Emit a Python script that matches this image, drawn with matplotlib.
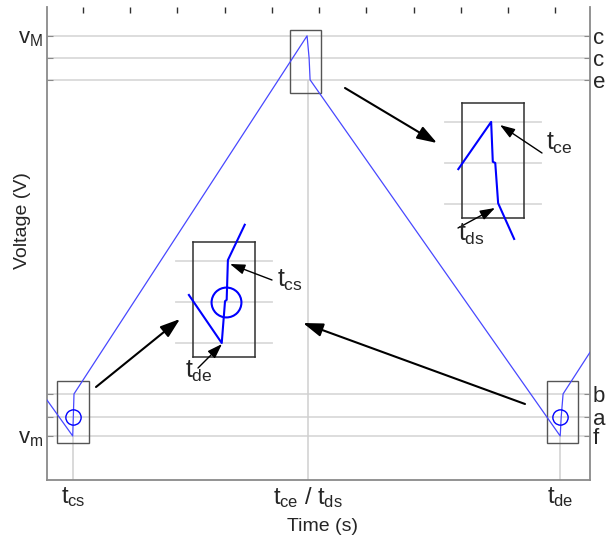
import matplotlib
matplotlib.use('Agg')
import matplotlib.pyplot as plt

plt.rcParams['font.family'] = 'Liberation Sans'
plt.rcParams['mathtext.fontset'] = 'custom'
plt.rcParams['mathtext.rm'] = 'Liberation Sans'
plt.rcParams['mathtext.it'] = 'Liberation Sans'
plt.rcParams['mathtext.bf'] = 'Liberation Sans:bold'

# voltage levels (V)
v_f = 0.93   # v_m
v_a = 1.33
v_b = 1.82
v_e = 8.46
v_c = 8.92
v_d = 9.39   # v_M
levels = [v_d, v_c, v_e, v_b, v_a, v_f]
left_labels = [r'$v_M$', '', '', '', '', r'$v_m$']
right_labels = ['c', 'c', 'e', 'b', 'a', 'f']

# switching instants (s)
t_cs = 0.55
t_ce = 5.53
t_de = 10.87
xtick_pos = [t_cs, t_ce, t_de]
xtick_labels = [r'$t_{cs}$', r'$t_{ce}$ / $t_{ds}$', r'$t_{de}$']
top_ticks = [0.763, 1.763, 2.763, 3.763, 4.763, 5.763, 6.763, 7.763, 8.763, 9.763, 10.763]

# triangular voltage trace
time = [0.00, 0.545, 0.557, 0.572, 5.508, 5.551, 5.572, 10.869, 10.89, 10.93, 11.50]
volt = [1.69, 0.93, 1.33, 1.82, 9.39, 8.92, 8.46, 0.93, 1.33, 1.82, 2.70]

# zoomed details (local units, levels at 0/1/2)
zoom_levels = [0, 1, 2]
zoom_ce_t = [-0.80, 0.00, 0.04, 0.10, 0.17, 0.56]
zoom_ce_v = [0.85, 2.00, 1.03, 1.00, 0.02, -0.85]
zoom_cs_t = [-0.90, -0.10, -0.02, 0.02, 0.05, 0.46]
zoom_cs_v = [1.17, 0.00, 1.02, 1.05, 2.02, 2.88]

W, H = 606, 537
fig = plt.figure(figsize=(W / 100, H / 100), dpi=100)
ax = fig.add_axes([47 / W, 1 - 480 / H, 543 / W, 473 / H])

spine_c = '#8a8a8a'
grid_c = '#dadada'
txt_c = '#262626'

for lv in levels:
    ax.axhline(lv, color=grid_c, lw=1.3, zorder=1)
ax.vlines([t_cs, t_de], 0, v_f, color='#cfcfcf', lw=1.1, zorder=1)
ax.vlines([t_ce], 0, v_e, color='#cfcfcf', lw=1.1, zorder=1)

ax.plot(time, volt, color='#4848ff', lw=0.9, zorder=3)
ax.plot([t_cs, t_de], [v_a, v_a], 'o', ms=11, mfc='none', mec='#0000ff', mew=1.0, zorder=4)

# zoom windows
for x0, y0, y1 in [(t_cs, v_f - 0.15, v_b + 0.27), (t_ce - 0.05, v_e - 0.28, v_d + 0.12),
                   (t_de + 0.04, v_f - 0.15, v_b + 0.27)]:
    ax.add_patch(plt.Rectangle((x0 - 0.33, y0), 0.66, y1 - y0, fill=False,
                               ec='#555555', lw=1.0, zorder=2))

ax.set_xlim(0, 11.5)
ax.set_ylim(0, 10)
ax.set_xticks(xtick_pos)
ax.set_xticklabels(xtick_labels, fontsize=17, color=txt_c)
ax.set_yticks(levels)
ax.set_yticklabels(left_labels, fontsize=16, color=txt_c)
ax.tick_params(axis='x', length=0, pad=4)
ax.tick_params(axis='y', direction='in', length=4, color=spine_c, pad=3)
ax.spines['top'].set_visible(False)
for s in ['left', 'right', 'bottom']:
    ax.spines[s].set_color(spine_c)
    ax.spines[s].set_linewidth(1.3)

ax2 = ax.twinx()
ax2.set_ylim(0, 10)
ax2.set_yticks(levels)
ax2.set_yticklabels(right_labels, fontsize=16, color=txt_c)
ax2.tick_params(axis='y', direction='in', length=4, color=spine_c, pad=2)
for s in ax2.spines.values():
    s.set_visible(False)

sec = ax.secondary_xaxis('top')
sec.set_xticks(top_ticks)
sec.tick_params(direction='in', length=4, color='#303030', width=1, labeltop=False)
sec.spines['top'].set_visible(False)

ax.set_xlabel('Time (s)', fontsize=14, color=txt_c)
ax.xaxis.set_label_coords(0.508, -0.080)
ax.set_ylabel('Voltage (V)', fontsize=14, color=txt_c)
ax.yaxis.set_label_coords(-0.029, 0.548)


def inset(x0, y0, t, v, xlim):
    ia = fig.add_axes([x0 / W, 1 - (y0 + 115) / H, 62 / W, 115 / H])
    ia.set_xlim(*xlim)
    ia.set_ylim(-0.34, 2.46)
    for lv in zoom_levels:
        ia.axhline(lv, xmin=-0.28, xmax=1.27, color=grid_c, lw=1.3, clip_on=False, zorder=1)
    ia.plot(t, v, color='#0000ff', lw=1.5, clip_on=False, zorder=3)
    ia.set_xticks([])
    ia.set_yticks([])
    ia.patch.set_alpha(0)
    for s in ia.spines.values():
        s.set_color('#303030')
        s.set_linewidth(1.1)
    return ia


ia1 = inset(462, 103, zoom_ce_t, zoom_ce_v, (-0.71, 0.80))
ia2 = inset(193, 242, zoom_cs_t, zoom_cs_v, (-0.80, 0.71))
ia2.plot([0], [zoom_levels[1]], 'o', ms=21.5, mfc='none', mec='#0000ff', mew=1.5, zorder=4)


def arrow(x0, y0, x1, y1, lw, ms):
    fig.add_artist(matplotlib.patches.FancyArrowPatch(
        (x0, H - y0), (x1, H - y1), transform=None,
        arrowstyle='-|>,head_length=1.0,head_width=0.34', mutation_scale=ms,
        lw=lw, color='k', shrinkA=0, shrinkB=0))


arrow(96, 387, 180, 319, 1.5, 12)
arrow(525, 404, 303, 323, 1.5, 12)
arrow(345, 88, 437, 143, 1.5, 12)
arrow(542, 153, 500, 125, 1.0, 9)
arrow(458, 228, 495, 208, 1.0, 9)
arrow(272, 280, 230, 264, 1.0, 9)
arrow(198, 368, 222, 344, 1.0, 9)

for x, y, s in [(546, 150, r'$t_{ce}$'), (458, 241, r'$t_{ds}$'),
                (277, 287, r'$t_{cs}$'), (185, 378, r'$t_{de}$')]:
    fig.text(x / W, 1 - y / H, s, fontsize=18, color=txt_c, va='baseline', ha='left')

fig.savefig('out.png', dpi=100)
